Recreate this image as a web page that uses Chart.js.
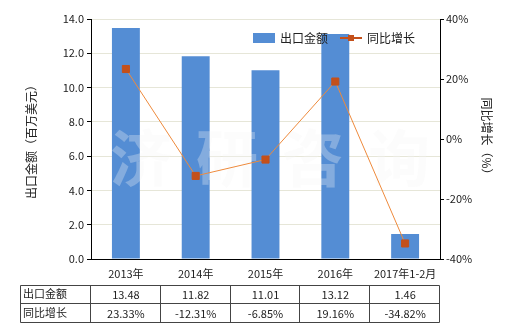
<!DOCTYPE html>
<html>
<head>
<meta charset="utf-8">
<script src="https://cdn.jsdelivr.net/npm/chart.js@4.4.0/dist/chart.umd.min.js"></script>
<style>
  html, body { margin: 0; padding: 0; background: #fff; }
  #wrap { width: 520px; height: 330px; position: relative; }
</style>
</head>
<body>
<div id="wrap"><canvas id="chart-export" width="520" height="330"></canvas></div>
<script>
var years = ["2013年", "2014年", "2015年", "2016年", "2017年1-2月"]
var amount = [13.48, 11.82, 11.01, 13.12, 1.46]
var growth = [23.33, -12.31, -6.85, 19.16, -34.82]
var amountText = ["13.48", "11.82", "11.01", "13.12", "1.46"]
var growthText = ["23.33%", "-12.31%", "-6.85%", "19.16%", "-34.82%"]

var barColor = "#548DD4"
var lineColor = "#EE8A3C"
var dotColor = "#C4501A"
var fontFam = "'Noto Sans CJK SC', 'DejaVu Sans', sans-serif"

// watermark, custom legend and the data table under the chart
var extras = {
	id: "extras",
	afterDatasetDraw: function(chart, args) {
		if (args.index !== 1) return
		var ctx = chart.ctx, a = chart.chartArea
		ctx.save()
		ctx.fillStyle = "rgba(246,246,246,0.3)"
		ctx.font = "bold 62px 'Noto Sans CJK SC'"
		ctx.textAlign = "center"
		ctx.textBaseline = "middle"
		var chars = ["济", "研", "咨", "询"]
		for (var i = 0; i < chars.length; i++) {
			ctx.fillText(chars[i], a.left + 50 + i * 86, 158)
		}
		ctx.restore()
	},
	afterDraw: function(chart) {
		var ctx = chart.ctx, x = chart.scales.x
		ctx.save()
		// legend
		ctx.fillStyle = barColor
		ctx.fillRect(253, 33, 22, 10)
		ctx.strokeStyle = dotColor
		ctx.lineWidth = 2
		ctx.beginPath(); ctx.moveTo(340, 38); ctx.lineTo(362, 38); ctx.stroke()
		ctx.fillStyle = dotColor
		ctx.fillRect(348, 35, 6, 6)
		ctx.fillStyle = "#222"
		ctx.font = "12px " + fontFam
		ctx.textBaseline = "middle"
		ctx.textAlign = "left"
		ctx.fillText("出口金额", 280, 38)
		ctx.fillText("同比增长", 367, 38)

		// table
		var top = 285.5, mid = 303.5, bot = 322.5, left = 20.5
		var right = Math.round(chart.chartArea.right) - 0.5
		ctx.strokeStyle = "#444"
		ctx.lineWidth = 1
		ctx.beginPath()
		ctx.moveTo(left, top); ctx.lineTo(right, top)
		ctx.moveTo(left, mid); ctx.lineTo(right, mid)
		ctx.moveTo(left, bot); ctx.lineTo(right, bot)
		ctx.moveTo(left, top); ctx.lineTo(left, bot)
		var step = (chart.chartArea.right - chart.chartArea.left) / years.length
		for (var j = 0; j <= years.length; j++) {
			var cx = Math.round(chart.chartArea.left + j * step) - 0.5
			ctx.moveTo(cx, top); ctx.lineTo(cx, bot)
		}
		ctx.stroke()
		ctx.fillStyle = "#222"
		ctx.font = "11px " + fontFam
		ctx.textAlign = "left"
		ctx.fillText("出口金额", 23, 294)
		ctx.fillText("同比增长", 23, 313)
		ctx.textAlign = "center"
		for (var k = 0; k < years.length; k++) {
			var px = x.getPixelForValue(k)
			ctx.fillText(amountText[k], px, 295)
			ctx.fillText(growthText[k], px, 314)
		}
		ctx.restore()
	}
}

var ctxExport = document.getElementById("chart-export").getContext("2d")
var chartExport = new Chart(ctxExport, {
	type: "bar",
	data: {
		labels: years,
		datasets: [
			{
				type: "line",
				label: "同比增长",
				data: growth,
				yAxisID: "y1",
				borderColor: lineColor,
				borderWidth: 1,
				pointStyle: "rect",
				pointRadius: 5,
				pointBackgroundColor: dotColor,
				pointBorderColor: dotColor,
				tension: 0,
				order: 0
			},
			{
				label: "出口金额",
				data: amount,
				yAxisID: "y",
				backgroundColor: barColor,
				barPercentage: 0.4,
				categoryPercentage: 1.0,
				order: 1
			}
		]
	},
	options: {
		responsive: false,
		animation: false,
		layout: { padding: { top: 19, left: 20, right: 22, bottom: 0 } },
		plugins: {
			legend: { display: false },
			tooltip: { enabled: false }
		},
		scales: {
			x: {
				grid: { display: false, drawTicks: true, tickLength: 5 },
				border: { color: "#000", width: 1 },
				ticks: { color: "#222", font: { size: 11, family: fontFam }, padding: 3, maxRotation: 0 },
				afterFit: function(s) { s.height = 71 }
			},
			y: {
				position: "left",
				min: 0, max: 14,
				ticks: {
					stepSize: 2, color: "#222", padding: 3,
					font: { size: 11, family: fontFam },
					callback: function(v) { return v.toFixed(1) }
				},
				grid: { color: "#E6E6D8", tickLength: 4, tickColor: "#000" },
				border: { color: "#000", width: 1 },
				title: { display: true, text: "出口金额（百万美元）", color: "#222", font: { size: 12, family: fontFam } },
				afterFit: function(s) { s.width = 71 }
			},
			y1: {
				position: "right",
				min: -40, max: 40,
				ticks: {
					stepSize: 20, color: "#222", padding: 2,
					font: { size: 11, family: fontFam },
					callback: function(v) { return v + "%" }
				},
				grid: { drawOnChartArea: false, tickLength: 4, tickColor: "#000" },
				border: { color: "#000", width: 1 },
				title: { display: true, text: "同比增长（%）", color: "#222", font: { size: 12, family: fontFam } },
				afterFit: function(s) { s.width = 58 }
			}
		}
	},
	plugins: [extras]
})
</script>
</body>
</html>
